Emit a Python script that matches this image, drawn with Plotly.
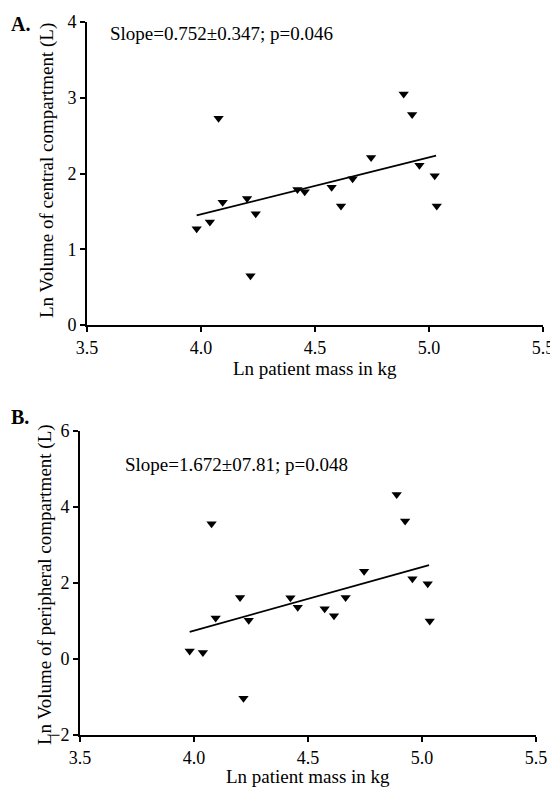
import plotly.graph_objects as go

# The page body has an 8px default margin, so the figure is drawn 8px smaller
# and all layout positions are given in window pixels minus that offset.
OFF = 8
W, H = 558 - OFF, 787 - OFF

# Data
ln_mass = [3.981, 4.039, 4.077, 4.095, 4.202, 4.240, 4.217, 4.423, 4.455,
           4.573, 4.614, 4.665, 4.746, 4.889, 4.926, 4.958, 5.025, 5.034]
ln_vc = [1.27, 1.36, 2.73, 1.62, 1.67, 1.47, 0.65, 1.79, 1.76,
         1.82, 1.57, 1.93, 2.21, 3.05, 2.78, 2.11, 1.97, 1.57]
ln_vp = [0.21, 0.17, 3.56, 1.08, 1.62, 1.02, -1.03, 1.61, 1.36,
         1.32, 1.14, 1.62, 2.31, 4.33, 3.63, 2.11, 1.98, 1.00]

fit_x = [3.981, 5.031]
slope_a, intercept_a = 0.752, -1.548
slope_b, intercept_b = 1.672, -5.941

x_ticks = [3.5, 4.0, 4.5, 5.0, 5.5]
ya_ticks = [0, 1, 2, 3, 4]
yb_ticks = [-2, 0, 2, 4, 6]

FONT = "Liberation Serif"

def px(x):
    return (x - OFF) / W

def py(y):
    return 1 - (y - OFF) / H

fig = go.Figure()

fig.add_trace(go.Scatter(x=ln_mass, y=ln_vc, mode="markers",
                         marker=dict(symbol="triangle-down", size=9, color="black"),
                         xaxis="x", yaxis="y", showlegend=False))
fig.add_trace(go.Scatter(x=fit_x, y=[intercept_a + slope_a * v for v in fit_x], mode="lines",
                         line=dict(color="black", width=1.8),
                         xaxis="x", yaxis="y", showlegend=False))
fig.add_trace(go.Scatter(x=ln_mass, y=ln_vp, mode="markers",
                         marker=dict(symbol="triangle-down", size=9, color="black"),
                         xaxis="x2", yaxis="y2", showlegend=False))
fig.add_trace(go.Scatter(x=fit_x, y=[intercept_b + slope_b * v for v in fit_x], mode="lines",
                         line=dict(color="black", width=1.8),
                         xaxis="x2", yaxis="y2", showlegend=False))

axis_common = dict(showline=True, linecolor="black", linewidth=2, ticks="outside",
                   ticklen=5, tickwidth=2, tickcolor="black", showgrid=False,
                   zeroline=False, tickfont=dict(family=FONT, size=18, color="black"),
                   automargin=False)

fig.update_layout(
    width=W, height=H,
    margin=dict(l=0, r=0, t=0, b=0),
    paper_bgcolor="white", plot_bgcolor="white",
    xaxis=dict(domain=[px(87), px(543)], range=[3.5, 5.5], tickvals=x_ticks,
               ticktext=[f"{v:.1f}" for v in x_ticks], anchor="y", **axis_common),
    yaxis=dict(domain=[py(325), py(22)], range=[0, 4], tickvals=ya_ticks, anchor="x",
               **axis_common),
    xaxis2=dict(domain=[px(80), px(536)], range=[3.5, 5.5], tickvals=x_ticks,
                ticktext=[f"{v:.1f}" for v in x_ticks], anchor="y2", **axis_common),
    yaxis2=dict(domain=[py(735), py(431)], range=[-2, 6], tickvals=yb_ticks, anchor="x2",
                **axis_common),
)

def ann(text, x, y, size=19, angle=0, xanchor="center", bold=False):
    fig.add_annotation(text=f"<b>{text}</b>" if bold else text,
                       x=px(x), y=py(y), xref="paper", yref="paper",
                       showarrow=False, textangle=angle, xanchor=xanchor, yanchor="middle",
                       font=dict(family=FONT, size=size, color="black"))

ann("A.", 9, 24, size=20, xanchor="left", bold=True)
ann("B.", 9, 417, size=20, xanchor="left", bold=True)
ann("Slope=0.752±0.347; p=0.046", 108, 33, xanchor="left")
ann("Slope=1.672±07.81; p=0.048", 123, 464, xanchor="left")
ann("Ln Volume of central compartment (L)", 47, 171, angle=-90)
ann("Ln Volume of peripheral compartment (L)", 45, 585, angle=-90)
ann("Ln patient mass in kg", 315, 368)
ann("Ln patient mass in kg", 308, 776)

fig.write_html("out.html")
